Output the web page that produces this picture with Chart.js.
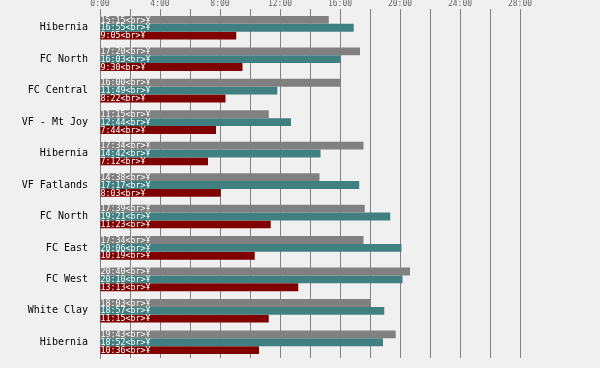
<!DOCTYPE html>
<html>
<head>
<meta charset="utf-8">
<script src="https://cdn.jsdelivr.net/npm/chart.js@4/dist/chart.umd.min.js"></script>
<style>
  html, body { margin: 0; padding: 0; background: #f0f0f0; }
  #wrap { width: 600px; height: 368px; }
</style>
</head>
<body>
<div id="wrap"><canvas id="chart" width="600" height="368"></canvas></div>
<script>
// race names, top to bottom
const teams = ['Hibernia', 'FC North', 'FC Central', 'VF - Mt Joy', 'Hibernia', 'VF Fatlands',
  'FC North', 'FC East', 'FC West', 'White Clay', 'Hibernia'];
// times as shown on the bars
const grayTimes = ['15:15', '17:20', '16:00', '11:15', '17:34', '14:38', '17:39', '17:34', '20:40', '18:03', '19:43'];
const tealTimes = ['16:55', '16:03', '11:49', '12:44', '14:42', '17:17', '19:21', '20:06', '20:10', '18:57', '18:52'];
const redTimes = ['9:05', '9:30', '8:22', '7:44', '7:12', '8:03', '11:23', '10:19', '13:13', '11:15', '10:36'];
// axis: 0:00 to 28:00, lines every 2:00, labels every 4:00
const axisMax = 28 * 60;
const axisStep = 2 * 60;
const labelEvery = 4 * 60;

const colors = ['#808080', '#408080', '#800000'];
const seriesTimes = [grayTimes, tealTimes, redTimes];

// "mm:ss" -> seconds
function toSecs(t) {
    const p = t.split(':');
    return parseInt(p[0]) * 60 + parseInt(p[1]);
}

// draws "15:15<br>Ұ" at the start of every bar
const barText = {
    id: 'barText',
    afterDatasetsDraw(chart) {
        const ctx = chart.ctx;
        ctx.save();
        ctx.font = '8.3px "DejaVu Sans Mono", monospace';
        ctx.fillStyle = '#ffffff';
        ctx.textAlign = 'left';
        ctx.textBaseline = 'middle';
        chart.data.datasets.forEach((ds, i) => {
            chart.getDatasetMeta(i).data.forEach((bar, j) => {
                ctx.fillText(seriesTimes[i][j] + '<br>Ұ', bar.base, bar.y + 0.5);
            });
        });
        ctx.restore();
    }
};

const ctx = document.getElementById('chart').getContext('2d');
const chart = new Chart(ctx, {
    type: 'bar',
    data: {
        labels: teams,
        datasets: seriesTimes.map((times, i) => ({
            data: times.map(toSecs),
            backgroundColor: colors[i],
            borderWidth: 0,
            categoryPercentage: 0.75,
            barPercentage: 1.0
        }))
    },
    options: {
        indexAxis: 'y',
        responsive: false,
        animation: false,
        events: [],
        layout: { padding: { right: 80, bottom: 4, left: 0, top: 0 } },
        plugins: { legend: { display: false }, tooltip: { enabled: false } },
        scales: {
            x: {
                position: 'top',
                min: 0,
                max: axisMax,
                afterFit: scale => { scale.height = 12; },
                grid: { color: '#808080', lineWidth: 1, tickLength: 3, drawOnChartArea: true },
                border: { display: false },
                ticks: {
                    stepSize: axisStep,
                    autoSkip: false,
                    maxRotation: 0,
                    padding: 0,
                    color: '#666666',
                    font: { family: '"DejaVu Sans Mono", monospace', size: 8 },
                    callback: v => (v % labelEvery === 0 ? (v / 60) + ':00' : '')
                }
            },
            y: {
                afterFit: scale => { scale.width = 100; },
                grid: { display: false },
                border: { color: '#808080' },
                ticks: {
                    color: '#000000',
                    padding: 4,
                    font: { family: '"DejaVu Sans Mono", monospace', size: 10 }
                }
            }
        }
    },
    plugins: [barText]
});
</script>
</body>
</html>
